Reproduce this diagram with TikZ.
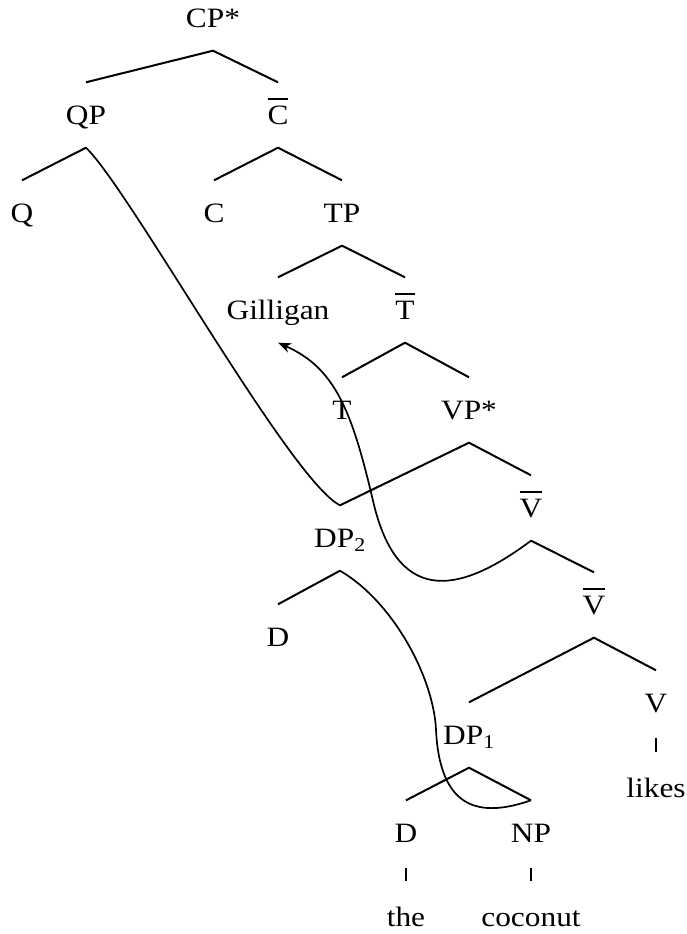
\documentclass[tikz,border=0pt]{standalone}
\usepackage{fontspec}
\setmainfont{Liberation Serif}[FakeStretch=1.12]
\usetikzlibrary{positioning,arrows.meta}
\newcommand{\barcat}[1]{\leavevmode\vbox{\hrule height 2.2pt\kern 5.5pt\hbox{#1}}}

\begin{document}
\begin{tikzpicture}[x=1pt, y=-1pt, on grid,
    cat/.style={inner sep=0pt, text height=18.5pt, text depth=0pt, minimum height=65pt, font=\fontsize{28}{34}\selectfont},
    branch/.style={line width=2pt, line join=round},
    tick/.style={line width=1.2pt, shorten <=2pt, shorten >=3pt},
    move/.style={line width=1.7pt}]
    \useasboundingbox (0,0) rectangle (686,934);

    \node[cat] (cp) at (213,18) {CP*};
    \node[cat, below left=97pt and 127pt of cp] (qp) {QP};
    \node[cat, below right=97pt and 65pt of cp] (cbar) {\barcat{C}};
    \node[cat, below left=98pt and 64pt of qp] (q) {Q};
    \node[cat, below left=98pt and 64pt of cbar] (c) {C};
    \node[cat, below right=98pt and 64pt of cbar] (tp) {TP};
    \node[cat, below left=97pt and 64pt of tp] (gilligan) {Gilligan};
    \node[cat, below right=97pt and 63pt of tp] (tbar) {\barcat{T}};
    \node[cat, below left=100pt and 63pt of tbar] (t) {T};
    \node[cat, below right=100pt and 64pt of tbar] (vp) {VP*};
    \node[cat, below left=128pt and 129pt of vp] (dp2) {DP\textsubscript{2}};
    \node[cat, below right=98pt and 62pt of vp] (vbar1) {\barcat{V}};
    \node[cat, below left=99pt and 62pt of dp2] (d1) {D};
    \node[cat, below right=97pt and 63pt of vbar1] (vbar2) {\barcat{V}};
    \node[cat, below left=130pt and 125pt of vbar2] (dp1) {DP\textsubscript{1}};
    \node[cat, below right=98pt and 62pt of vbar2] (v) {V};
    \node[cat, below left=98pt and 63pt of dp1] (d2) {D};
    \node[cat, below right=98pt and 62pt of dp1] (np) {NP};
    \node[cat, below=85pt of v] (likes) {likes};
    \node[cat, below=84pt of d2] (the) {the};
    \node[cat, below=84pt of np] (coconut) {coconut};

    % tree
    \draw[branch] (qp.north) -- (cp.south) -- (cbar.north);
    \draw[branch] (q.north) -- (qp.south);
    \draw[branch] (c.north) -- (cbar.south) -- (tp.north);
    \draw[branch] (gilligan.north) -- (tp.south) -- (tbar.north);
    \draw[branch] (t.north) -- (tbar.south) -- (vp.north);
    \draw[branch] (dp2.north) -- (vp.south) -- (vbar1.north);
    \draw[branch] (d1.north) -- (dp2.south);
    \draw[branch] (vbar1.south) -- (vbar2.north);
    \draw[branch] (dp1.north) -- (vbar2.south) -- (v.north);
    \draw[branch] (d2.north) -- (dp1.south) -- (np.north);
    \draw[tick] (v.south) -- (likes.north);
    \draw[tick] (d2.south) -- (the.north);
    \draw[tick] (np.south) -- (coconut.north);

    % shared daughters and movement
    \draw[move] (qp.south) .. controls (130,190) and (290,480) .. (dp2.north);
    \draw[move] (dp2.south) .. controls (395,603) and (434,680) .. (436,730)
        .. controls (440,810) and (480,818) .. (np.north);
    \draw[move, -{Stealth[length=13pt, width=10pt, inset=4pt]}] (vbar1.south)
        .. controls (465,590) and (400,610) .. (374,505)
        .. controls (352,410) and (335,368) .. (gilligan.south);
\end{tikzpicture}
\end{document}
